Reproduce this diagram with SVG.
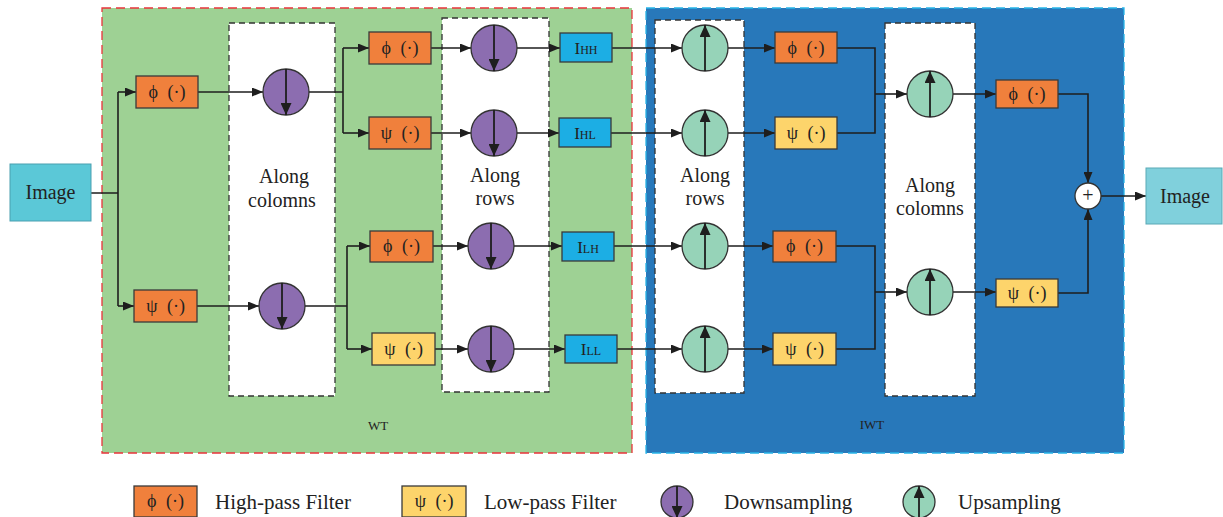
<svg xmlns="http://www.w3.org/2000/svg" width="1223" height="517" viewBox="0 0 1223 517">
<defs>
<marker id="arr" viewBox="0 0 11 9" refX="11" refY="4.5" markerWidth="11" markerHeight="9" markerUnits="userSpaceOnUse" orient="auto"><path d="M0,0 L11,4.5 L0,9 z" fill="#1e1e1e"/></marker>
<marker id="arrC" viewBox="0 0 12 11" refX="12" refY="5.5" markerWidth="12" markerHeight="11" markerUnits="userSpaceOnUse" orient="auto"><path d="M0,0 L12,5.5 L0,11 z" fill="#1e1e1e"/></marker>
</defs>
<style>
.bh{fill:#f0803c;stroke:#3a3a3a;stroke-width:1.3}
.bl{fill:#fdd46b;stroke:#3a3a3a;stroke-width:1.3}
.bi{fill:#1caee4;stroke:#3a3a3a;stroke-width:1.3}
.down{fill:#8c6db0;stroke:#333;stroke-width:1.3}
.up{fill:#96d3b8;stroke:#333;stroke-width:1.3}
.dash{fill:#fff;stroke:#333;stroke-width:1.3;stroke-dasharray:6,4}
.t{font-family:"Liberation Serif","Times New Roman",serif;font-size:20px;fill:#222;text-anchor:middle}
.f{font-family:"Liberation Serif","Times New Roman",serif;font-size:18px;fill:#222;text-anchor:middle;word-spacing:5px}
.s{font-family:"Liberation Serif","Times New Roman",serif;font-size:13px;fill:#222;text-anchor:middle}
.i{font-family:"Liberation Serif","Times New Roman",serif;font-size:17px;fill:#222;text-anchor:middle}
.lg{font-family:"Liberation Serif","Times New Roman",serif;font-size:21px;fill:#222}
.c{stroke:#1e1e1e;stroke-width:1.6;fill:none}
.ca{stroke:#1e1e1e;stroke-width:1.6;fill:none;marker-end:url(#arr)}
.ci{stroke:#1e1e1e;stroke-width:1.8;fill:none;marker-end:url(#arrC)}
</style>

<g id="wt-region">
<rect x="102" y="8" width="530" height="445" fill="#9ed194" stroke="#e8353b" stroke-width="1.3" stroke-dasharray="9,5"/>
<text class="s" x="378" y="430">WT</text>
</g>
<g id="iwt-region">
<rect x="646" y="8" width="478" height="445" fill="#2878ba" stroke="#29b5e9" stroke-width="1.3" stroke-dasharray="9,5"/>
<text class="s" x="872" y="429">IWT</text>
</g>

<g id="wt-cols"><rect class="dash" x="229" y="23" width="106" height="373"/><text class="t" x="284" y="183">Along</text><text class="t" x="282" y="207">colomns</text></g>
<g id="wt-rows"><rect class="dash" x="442" y="18" width="107" height="374"/><text class="t" x="495" y="182">Along</text><text class="t" x="495" y="205">rows</text></g>
<g id="iwt-rows"><rect class="dash" x="655" y="20" width="89" height="373"/><text class="t" x="705" y="182">Along</text><text class="t" x="705" y="205">rows</text></g>
<g id="iwt-cols"><rect class="dash" x="885" y="23" width="90" height="373"/><text class="t" x="930" y="192">Along</text><text class="t" x="930" y="215">colomns</text></g>

<g id="connectors">
<path class="c" d="M91,193 H118 M118,92 V306"/>
<path class="ca" d="M118,92 H136"/>
<path class="ca" d="M118,306 H134"/>
<path class="ca" d="M198,92 H263"/>
<path class="ca" d="M197,306 H259"/>
<path class="c" d="M309,92 H343 M343,48 V133 M305,306 H347 M347,246 V349"/>
<path class="ca" d="M343,48 H369"/>
<path class="ca" d="M343,133 H369"/>
<path class="ca" d="M347,246 H370"/>
<path class="ca" d="M347,349 H372"/>
<path class="ca" d="M431,48 H471"/>
<path class="ca" d="M431,133 H471"/>
<path class="ca" d="M433,246 H468"/>
<path class="ca" d="M435,349 H468"/>
<path class="ca" d="M517,48 H560"/>
<path class="ca" d="M517,133 H559"/>
<path class="ca" d="M514,246 H562"/>
<path class="ca" d="M514,349 H565"/>
<path class="ca" d="M612,48 H682"/>
<path class="ca" d="M611,133 H682"/>
<path class="ca" d="M614,246 H682"/>
<path class="ca" d="M617,349 H682"/>
<path class="ca" d="M728,48 H775"/>
<path class="ca" d="M728,133 H775"/>
<path class="ca" d="M728,246 H773"/>
<path class="ca" d="M728,349 H773"/>
<path class="c" d="M837,48 H875 V133 H837 M836,246 H875 V349 H836"/>
<path class="ca" d="M875,94 H907"/>
<path class="ca" d="M875,292 H907"/>
<path class="ca" d="M953,94 H996"/>
<path class="ca" d="M953,292 H996"/>
<path class="ca" d="M1058,94 H1088 V183"/>
<path class="ca" d="M1058,293 H1088 V209"/>
<path class="ca" d="M1101,196 H1146"/>
</g>

<g id="image-in"><rect x="10" y="164" width="81" height="57" fill="#5bc8d7" stroke="#4a9fb0" stroke-width="1"/><text class="t" x="50.5" y="199">Image</text></g>

<g id="h1"><rect class="bh" x="136" y="76" width="62" height="32"/><text class="f" x="167" y="98">ϕ (·)</text></g>
<g id="l1"><rect class="bh" x="134" y="290" width="63" height="32"/><text class="f" x="165.5" y="312">ψ (·)</text></g>
<g id="d1"><circle class="down" cx="286" cy="92" r="23"/><path class="ci" d="M286,69 V115"/></g>
<g id="d2"><circle class="down" cx="282" cy="306" r="23"/><path class="ci" d="M282,283 V329"/></g>

<g id="h2"><rect class="bh" x="369" y="32" width="62" height="32"/><text class="f" x="400" y="54">ϕ (·)</text></g>
<g id="l2"><rect class="bh" x="369" y="117" width="62" height="32"/><text class="f" x="400" y="139">ψ (·)</text></g>
<g id="h3"><rect class="bh" x="370" y="231" width="63" height="31"/><text class="f" x="401.5" y="252">ϕ (·)</text></g>
<g id="l3"><rect class="bl" x="372" y="333" width="63" height="32"/><text class="f" x="403.5" y="355">ψ (·)</text></g>

<g id="d3"><circle class="down" cx="494" cy="48" r="23"/><path class="ci" d="M494,25 V71"/></g>
<g id="d4"><circle class="down" cx="494" cy="133" r="23"/><path class="ci" d="M494,110 V156"/></g>
<g id="d5"><circle class="down" cx="491" cy="246" r="23"/><path class="ci" d="M491,223 V269"/></g>
<g id="d6"><circle class="down" cx="491" cy="349" r="23"/><path class="ci" d="M491,326 V372"/></g>

<g id="ihh"><rect class="bi" x="560" y="33" width="52" height="29"/><text class="i" x="586" y="54">I<tspan font-size="12">HH</tspan></text></g>
<g id="ihl"><rect class="bi" x="559" y="118" width="52" height="29"/><text class="i" x="585" y="139">I<tspan font-size="12">HL</tspan></text></g>
<g id="ilh"><rect class="bi" x="562" y="232" width="52" height="29"/><text class="i" x="588" y="253">I<tspan font-size="12">LH</tspan></text></g>
<g id="ill"><rect class="bi" x="565" y="335" width="52" height="28"/><text class="i" x="591" y="355">I<tspan font-size="12">LL</tspan></text></g>

<g id="u1"><circle class="up" cx="705" cy="48" r="23"/><path class="ci" d="M705,71 V25"/></g>
<g id="u2"><circle class="up" cx="705" cy="133" r="23"/><path class="ci" d="M705,156 V110"/></g>
<g id="u3"><circle class="up" cx="705" cy="246" r="23"/><path class="ci" d="M705,269 V223"/></g>
<g id="u4"><circle class="up" cx="705" cy="349" r="23"/><path class="ci" d="M705,372 V326"/></g>

<g id="h4"><rect class="bh" x="775" y="32" width="62" height="31"/><text class="f" x="806" y="54">ϕ (·)</text></g>
<g id="l4"><rect class="bl" x="775" y="117" width="62" height="32"/><text class="f" x="806" y="139">ψ (·)</text></g>
<g id="h5"><rect class="bh" x="773" y="231" width="63" height="31"/><text class="f" x="804.5" y="252">ϕ (·)</text></g>
<g id="l5"><rect class="bl" x="773" y="333" width="63" height="32"/><text class="f" x="804.5" y="355">ψ (·)</text></g>

<g id="u5"><circle class="up" cx="930" cy="94" r="23"/><path class="ci" d="M930,117 V71"/></g>
<g id="u6"><circle class="up" cx="930" cy="292" r="23"/><path class="ci" d="M930,315 V269"/></g>

<g id="h6"><rect class="bh" x="996" y="80" width="62" height="28"/><text class="f" x="1027" y="100">ϕ (·)</text></g>
<g id="l6"><rect class="bl" x="996" y="279" width="62" height="28"/><text class="f" x="1027" y="299">ψ (·)</text></g>

<g id="plus"><circle cx="1088" cy="196" r="13" fill="#fff" stroke="#333" stroke-width="1.3"/><text class="t" x="1088" y="202" font-size="18">+</text></g>
<g id="image-out"><rect x="1146" y="168" width="76" height="56" fill="#80d0dc" stroke="#5aa9b6" stroke-width="1"/><text class="t" x="1185" y="203">Image</text></g>

<g id="legend">
<rect class="bh" x="134" y="486" width="63" height="31"/><text class="f" x="165.5" y="507" font-size="16">ϕ (·)</text>
<text class="lg" x="215" y="509">High-pass Filter</text>
<rect class="bl" x="402" y="486" width="64" height="31"/><text class="f" x="434" y="507" font-size="16">ψ (·)</text>
<text class="lg" x="484" y="509">Low-pass Filter</text>
<circle class="down" cx="677" cy="502" r="16"/><path class="ci" d="M677,486 V518"/>
<text class="lg" x="724" y="509">Downsampling</text>
<circle class="up" cx="919" cy="502" r="16"/><path class="ci" d="M919,518 V486"/>
<text class="lg" x="958" y="509">Upsampling</text>
</g>
</svg>
